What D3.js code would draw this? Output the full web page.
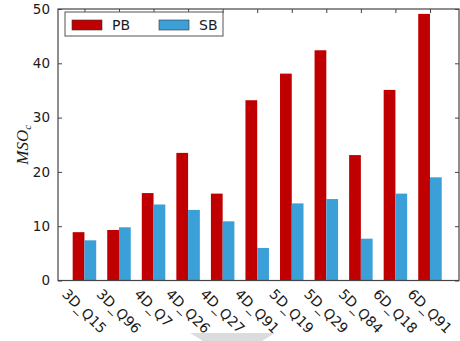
<!DOCTYPE html>
<html>
<head>
<meta charset="utf-8">
<script src="https://cdn.jsdelivr.net/npm/d3@7/dist/d3.min.js"></script>
<style>
  html, body { margin: 0; padding: 0; background: #fff; }
  svg { display: block; }
</style>
</head>
<body>
<svg id="chart" width="460" height="341"></svg>
<script>
// Query labels and the two measured series
const categories = ["3D_Q15", "3D_Q96", "4D_Q7", "4D_Q26", "4D_Q27", "4D_Q91",
                    "5D_Q19", "5D_Q29", "5D_Q84", "6D_Q18", "6D_Q91"];
const pbValues = [8.9, 9.3, 16.1, 23.5, 16.0, 33.2, 38.1, 42.4, 23.1, 35.1, 49.1];
const sbValues = [7.4, 9.8, 14.0, 13.0, 10.9, 6.0, 14.2, 15.0, 7.7, 16.0, 19.0];
const seriesNames = ["PB", "SB"];
const yTicks = [0, 10, 20, 30, 40, 50];

const colors = { PB: "#c00000", SB: "#3b9fd8" };
const barWidth = 0.34;

const svg = d3.select("#chart");
const plotLeft = 58, plotRight = 459, plotTop = 9, plotBottom = 280.5;

const x = d3.scaleLinear().domain([-0.425, 11.18]).range([plotLeft, plotRight]);
const y = d3.scaleLinear().domain([0, 50]).range([plotBottom, plotTop]);

const font = "'DejaVu Sans', sans-serif";
const axisColor = "#444";
const textColor = "#1a1a1a";

// Bars
const series = [
  { name: "PB", values: pbValues, offset: 0 },
  { name: "SB", values: sbValues, offset: barWidth }
];
series.forEach(s => {
  svg.append("g").selectAll("rect")
    .data(s.values)
    .join("rect")
    .attr("x", (d, i) => x(i + s.offset))
    .attr("width", (d, i) => x(i + s.offset + barWidth) - x(i + s.offset))
    .attr("y", d => y(d))
    .attr("height", d => y(0) - y(d))
    .attr("fill", colors[s.name]);
});

// Frame
svg.append("rect")
  .attr("x", plotLeft).attr("y", plotTop)
  .attr("width", plotRight - plotLeft).attr("height", plotBottom - plotTop)
  .attr("fill", "none").attr("stroke", axisColor).attr("stroke-width", 1.2);

// Y ticks (inward on both sides) and labels
const yAxis = d3.axisLeft(y).tickValues(yTicks).tickSize(-4).tickPadding(8)
  .tickFormat(d3.format("d"));
const gy = svg.append("g").attr("transform", `translate(${plotLeft},0)`).call(yAxis);
gy.select(".domain").remove();
gy.selectAll("line").attr("stroke", axisColor);
gy.selectAll("text").attr("font-family", font).attr("font-size", 13.5).attr("fill", textColor);

const gyR = svg.append("g").attr("transform", `translate(${plotRight},0)`)
  .call(d3.axisRight(y).tickValues(yTicks).tickSize(-4).tickFormat(""));
gyR.select(".domain").remove();
gyR.selectAll("line").attr("stroke", axisColor);

// X ticks at group centres (inward on top)
const tickPos = categories.map((c, i) => i + barWidth);
const gxT = svg.append("g").attr("transform", `translate(0,${plotTop})`)
  .call(d3.axisTop(x).tickValues(tickPos).tickSize(-4).tickFormat(""));
gxT.select(".domain").remove();
gxT.selectAll("line").attr("stroke", axisColor);

// Rotated category labels, centred under each tick
const labelTop = 287;
const labelSize = 14;
const labels = svg.append("g").selectAll("text")
  .data(categories)
  .join("text")
  .attr("font-family", font)
  .attr("font-size", labelSize)
  .attr("fill", textColor)
  .attr("text-anchor", "middle")
  .attr("dominant-baseline", "central")
  .text(d => d);
labels.each(function(d, i) {
  const L = this.getComputedTextLength();
  const h = labelSize * 0.9;
  const cx = x(i + barWidth);
  const cy = labelTop + (L + h) / (2 * Math.SQRT2);
  d3.select(this).attr("transform", `translate(${cx},${cy}) rotate(45)`);
});

// Y axis title: MSO with subscript c
const yTitle = svg.append("text")
  .attr("transform", `translate(28,${(plotTop + plotBottom) / 2}) rotate(-90)`)
  .attr("text-anchor", "middle")
  .attr("font-family", "'Liberation Serif', 'DejaVu Serif', serif")
  .attr("font-style", "italic")
  .attr("font-size", 17)
  .attr("fill", textColor);
yTitle.append("tspan").text("MSO");
yTitle.append("tspan").attr("font-size", 11).attr("dy", 3).text("c");

// Legend
const legend = svg.append("g");
legend.append("rect")
  .attr("x", 65).attr("y", 12).attr("width", 158).attr("height", 24)
  .attr("fill", "#fff").attr("stroke", "#555").attr("stroke-width", 1);
const legendX = [72, 159];
seriesNames.forEach((name, i) => {
  legend.append("rect")
    .attr("x", legendX[i]).attr("y", 20).attr("width", 30).attr("height", 10)
    .attr("fill", colors[name]).attr("stroke", "#333").attr("stroke-width", 0.6);
  legend.append("text")
    .attr("x", legendX[i] + 40).attr("y", 30)
    .attr("font-family", font).attr("font-size", 14).attr("fill", textColor)
    .text(name);
});

// Light grey chevron along the bottom edge
svg.append("path")
  .attr("d", "M190,333 L275,333 L262,341 L203,341 Z")
  .attr("fill", "#dcdcdc");
</script>
</body>
</html>
